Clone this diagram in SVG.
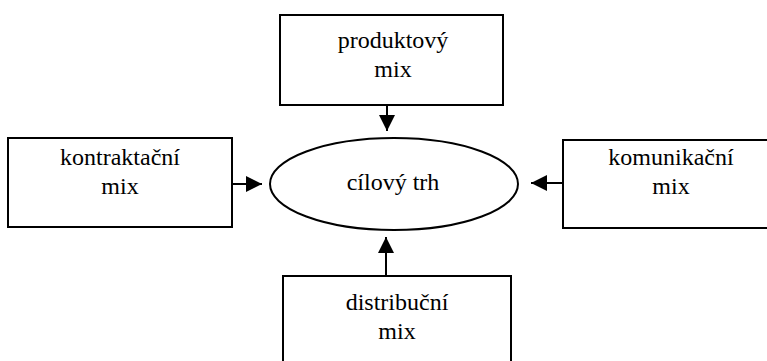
<svg xmlns="http://www.w3.org/2000/svg" width="767" height="361" viewBox="0 0 767 361">
<style>
.box{fill:#fff;stroke:#000;stroke-width:2}
.t{font-size:24px;fill:#000;text-anchor:middle}
.c{stroke:#000;stroke-width:2;fill:none}
</style>
<defs>
<marker id="ah" markerUnits="userSpaceOnUse" markerWidth="16" markerHeight="16" viewBox="0 0 16 16" refX="16" refY="8" orient="auto">
<path d="M0,0 L16,8 L0,16 Z" fill="#000"/>
</marker>
</defs>
<rect width="767" height="361" fill="#fff"/>
<g id="connectors">
<line class="c" x1="387" y1="105" x2="387" y2="131" marker-end="url(#ah)"/>
<line class="c" x1="386" y1="276" x2="386" y2="237" marker-end="url(#ah)"/>
<line class="c" x1="232" y1="184" x2="262" y2="184" marker-end="url(#ah)"/>
<line class="c" x1="563" y1="183" x2="531" y2="183" marker-end="url(#ah)"/>
</g>
<g font-family="Liberation Serif, DejaVu Serif, serif">
<g id="produktovy">
<rect class="box" x="280" y="15" width="223" height="90"/>
<text class="t" x="393" y="48">produktový</text>
<text class="t" x="393" y="77">mix</text>
</g>
<g id="kontraktacni">
<rect class="box" x="8" y="138" width="224" height="89"/>
<text class="t" x="120" y="165">kontraktační</text>
<text class="t" x="120" y="194">mix</text>
</g>
<g id="komunikacni">
<rect class="box" x="563" y="140" width="210" height="88"/>
<text class="t" x="671" y="165">komunikační</text>
<text class="t" x="671" y="194">mix</text>
</g>
<g id="distribucni">
<rect class="box" x="283" y="276" width="228" height="100"/>
<text class="t" x="397" y="310">distribuční</text>
<text class="t" x="397" y="339">mix</text>
</g>
<g id="cilovy-trh">
<ellipse class="box" cx="394" cy="184" rx="124" ry="46"/>
<text class="t" x="393" y="190">cílový trh</text>
</g>
</g>
</svg>
